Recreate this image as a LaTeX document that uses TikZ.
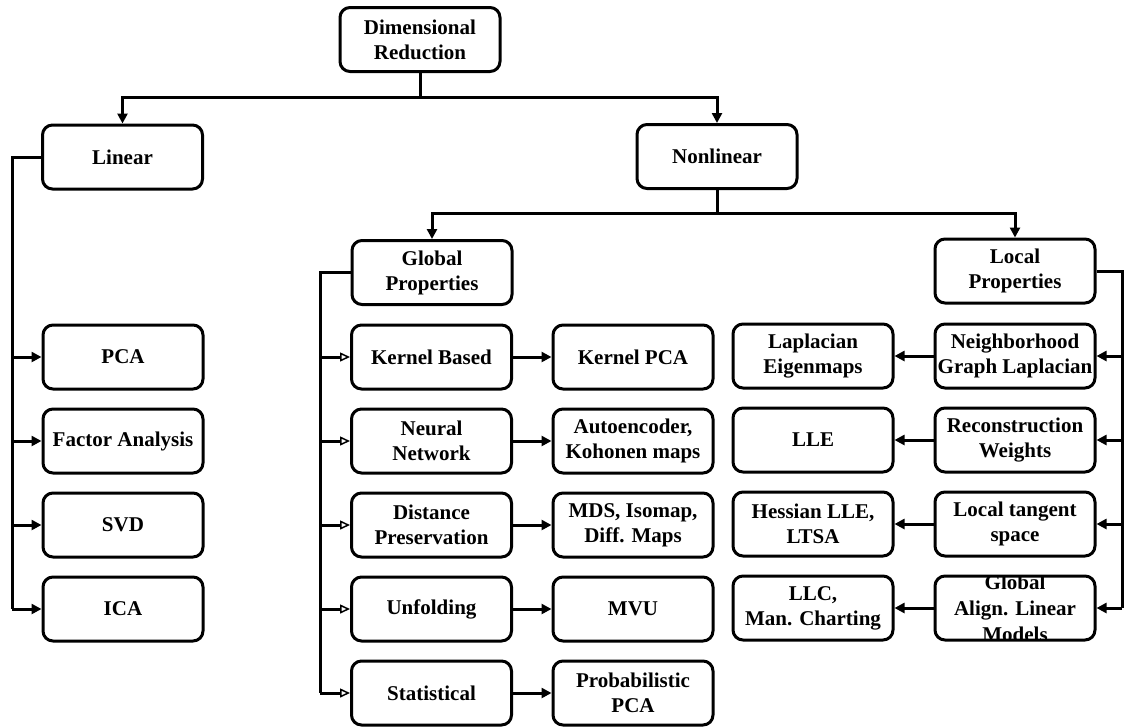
\documentclass[tikz,border=0pt]{standalone}
\usepackage{fontspec}
\setmainfont{Liberation Serif}
\usetikzlibrary{arrows.meta}
\tikzset{
  box/.style={draw, line width=3pt, rounded corners=10pt, fill=white,
    minimum width=160pt, minimum height=64pt, inner sep=0pt, align=center,
    font=\fontsize{21}{25}\selectfont\bfseries},
  ln/.style={line width=3pt},
  arr/.style={line width=3pt, -{Triangle[length=10pt,width=10pt]}},
  oarr/.style={line width=3pt, -{Triangle[open,length=10pt,width=9pt,line width=1.5pt]}},
}
\begin{document}
\begin{tikzpicture}[x=1pt,y=-1pt]
\useasboundingbox (0,0) rectangle (1126,726);
% top levels
\node[box] (root) at (420,39.5) {Dimensional\\Reduction};
\node[box] (lin) at (122.5,157) {Linear};
\node[box] (nonlin) at (717,156.5) {Nonlinear};
\node[box] (glob) at (432,272.5) {Global\\Properties};
\node[box] (loc) at (1015,271) {Local\\Properties};
% linear children
\node[box] (pca) at (123,357) {PCA};
\node[box] (fa) at (123,441) {Factor Analysis};
\node[box] (svd) at (123,525) {SVD};
\node[box] (ica) at (123,609) {ICA};
% global children
\node[box] (kb) at (431.5,357) {Kernel Based};
\node[box] (nn) at (431.5,441) {Neural\\Network};
\node[box] (dp) at (431.5,525) {Distance\\Preservation};
\node[box] (un) at (431.5,609) {Unfolding};
\node[box] (st) at (431.5,693) {Statistical};
\node[box] (kpca) at (633,357) {Kernel PCA};
\node[box] (ae) at (633,441) {Autoencoder,\\Kohonen maps};
\node[box] (mds) at (633,525) {MDS, Isomap,\\Diff. Maps};
\node[box] (mvu) at (633,609) {MVU};
\node[box] (ppca) at (633,693) {Probabilistic\\PCA};
% local children
\node[box] (ngl) at (1015,356) {Neighborhood\\Graph Laplacian};
\node[box] (rw) at (1015,440) {Reconstruction\\Weights};
\node[box] (lts) at (1015,524) {Local tangent\\space};
\node[box, path picture={\node[align=center, font=\fontsize{21}{26}\selectfont\bfseries] at (path picture bounding box.center) {Global\\Align. Linear\\Models};}] (gal) at (1015,608) {};
\node[box] (le) at (813,356) {Laplacian\\Eigenmaps};
\node[box] (lle) at (813,440) {LLE};
\node[box] (hl) at (813,524) {Hessian LLE,\\LTSA};
\node[box] (llc) at (813,608) {LLC,\\Man. Charting};
% junctions and trunks
\coordinate (j1) at (420,97);
\coordinate (j2) at (717,213);
\coordinate (tl) at (12,0);
\coordinate (tg) at (320,0);
\coordinate (tr) at (1122,0);
\draw[ln] (root.south) -- (j1);
\draw[arr] (j1) -| (lin.north);
\draw[arr] (j1) -| (nonlin.north);
\draw[ln] (nonlin.south) -- (j2);
\draw[arr] (j2) -| (glob.north);
\draw[arr] (j2) -| (loc.north);
% linear trunk
\draw[ln] (lin.west) -| (tl |- ica.west);
\foreach \n in {pca,fa,svd,ica} \draw[arr] (tl |- \n.west) -- (\n.west);
% global trunk
\draw[ln] (glob.west) -| (tg |- st.west);
\foreach \n in {kb,nn,dp,un,st} \draw[oarr] (tg |- \n.west) -- (\n.west);
\draw[arr] (kb) -- (kpca);
\draw[arr] (nn) -- (ae);
\draw[arr] (dp) -- (mds);
\draw[arr] (un) -- (mvu);
\draw[arr] (st) -- (ppca);
% local trunk
\draw[ln] (loc.east) -| (tr |- gal.east);
\foreach \n in {ngl,rw,lts,gal} \draw[arr] (tr |- \n.east) -- (\n.east);
\draw[arr] (ngl) -- (le);
\draw[arr] (rw) -- (lle);
\draw[arr] (lts) -- (hl);
\draw[arr] (gal) -- (llc);
\end{tikzpicture}
\end{document}
